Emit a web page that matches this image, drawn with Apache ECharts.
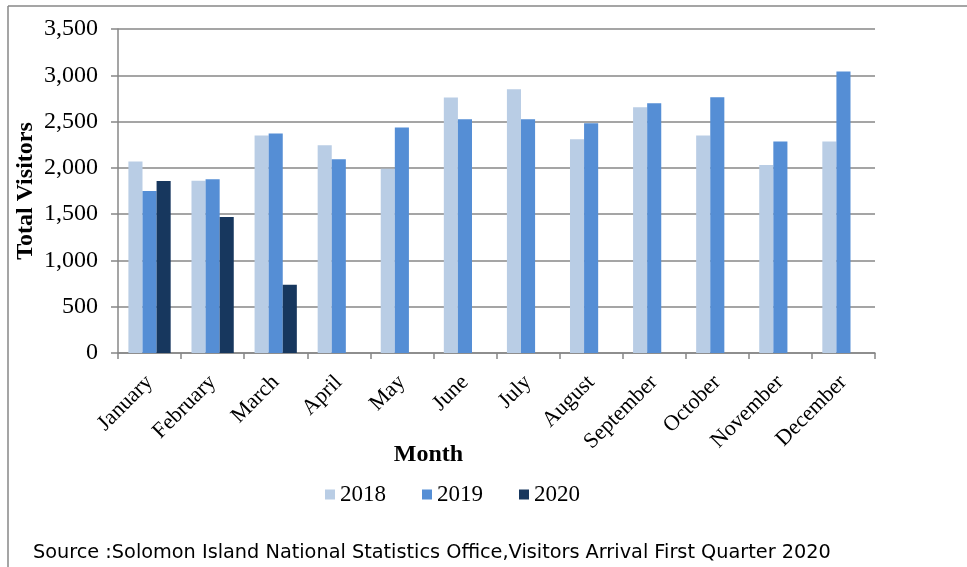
<!DOCTYPE html>
<html>
<head>
<meta charset="utf-8">
<script src="https://cdn.jsdelivr.net/npm/echarts@6/dist/echarts.min.js"></script>
<style>
html,body{margin:0;padding:0;background:#fff;}
#chart{width:967px;height:567px;}
</style>
</head>
<body>
<div id="chart"></div>
<script>
const months = ['January','February','March','April','May','June','July','August','September','October','November','December'];
const v2018 = [2070, 1860, 2350, 2245, 1990, 2760, 2850, 2310, 2655, 2350, 2030, 2285];
const v2019 = [1750, 1878, 2372, 2092, 2437, 2524, 2524, 2482, 2697, 2762, 2286, 3042];
const v2020 = [1857, 1469, 738, null, null, null, null, null, null, null, null, null];
const yTicks = [0, 500, 1000, 1500, 2000, 2500, 3000, 3500];
const seriesNames = ['2018', '2019', '2020'];
const seriesColors = ['#B9CDE5', '#558ED5', '#17375E'];
const sourceText = 'Source :Solomon Island National Statistics Office,Visitors Arrival First Quarter 2020';

const chart = echarts.init(document.getElementById('chart'));
const serif = 'Liberation Serif';
const gridColor = '#878787';
const data = [v2018, v2019, v2020];
const legendText = { fontFamily: serif, fontSize: 23, color: '#000' };

chart.setOption({
  animation: false,
  backgroundColor: '#fff',
  textStyle: { fontFamily: serif },
  grid: { left: 118, right: 92, top: 29, bottom: 214, containLabel: false },
  legend: {
    data: seriesNames.map(n => ({ name: n, textStyle: legendText })),
    top: 478,
    left: 320,
    itemWidth: 10,
    itemHeight: 10,
    itemGap: 36,
    icon: 'rect',
    textStyle: legendText
  },
  xAxis: {
    type: 'category',
    data: months,
    name: 'Month',
    nameLocation: 'middle',
    nameGap: 90,
    nameMoveOverlap: false,
    nameTextStyle: { fontFamily: serif, fontSize: 24, fontWeight: 'bold', color: '#000', padding: [0, 136, 0, 0] },
    axisLine: { show: true, lineStyle: { color: gridColor, width: 1.5 } },
    axisTick: { show: true, length: 6, alignWithLabel: false, lineStyle: { color: gridColor, width: 1.5 } },
    axisLabel: { rotate: 45, fontSize: 22, color: '#000', margin: 26, fontFamily: serif, interval: 0 },
    splitLine: { show: false }
  },
  yAxis: {
    type: 'value',
    min: yTicks[0],
    max: yTicks[yTicks.length - 1],
    interval: 500,
    name: 'Total Visitors',
    nameLocation: 'middle',
    nameGap: 80,
    nameMoveOverlap: false,
    nameRotate: 90,
    nameTextStyle: { fontFamily: serif, fontSize: 24, fontWeight: 'bold', color: '#000' },
    axisLine: { show: true, lineStyle: { color: gridColor, width: 1.5 } },
    axisTick: { show: true, length: 7, lineStyle: { color: gridColor, width: 1.5 } },
    axisLabel: {
      fontSize: 24, color: '#000', margin: 20, fontFamily: serif,
      formatter: v => v.toLocaleString('en-US')
    },
    splitLine: { show: true, lineStyle: { color: gridColor, width: 1.5 } }
  },
  series: seriesNames.map((n, i) => ({
    name: n,
    type: 'bar',
    data: data[i],
    barGap: '0%',
    barCategoryGap: '33%',
    itemStyle: { color: seriesColors[i] }
  })),
  graphic: [
    { type: 'line', shape: { x1: 8, y1: 6, x2: 967, y2: 6 }, style: { stroke: gridColor, lineWidth: 1.5 } },
    { type: 'line', shape: { x1: 8, y1: 6, x2: 8, y2: 567 }, style: { stroke: gridColor, lineWidth: 1.5 } },
    { type: 'text', left: 33, top: 543, style: { text: sourceText, font: '19.3px "DejaVu Sans"', fill: '#000' } }
  ]
});
</script>
</body>
</html>
